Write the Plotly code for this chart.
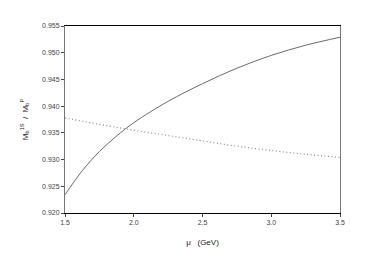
import plotly.graph_objects as go

mu = [1.5, 1.625, 1.75, 1.875, 2.0, 2.25, 2.5, 2.75, 3.0, 3.25, 3.5]
ratio_solid = [0.9234, 0.9279, 0.9315, 0.9344, 0.9369, 0.9409, 0.9442, 0.9471, 0.9495, 0.9514, 0.9529]

mu_d = [1.5, 1.75, 2.0, 2.25, 2.5, 2.75, 3.0, 3.25, 3.5]
ratio_dotted = [0.9378, 0.9366, 0.9355, 0.9345, 0.9335, 0.9325, 0.9317, 0.9310, 0.9304]

x_ticks = [1.5, 2.0, 2.5, 3.0, 3.5]
x_labels = ["1.5", "2.0", "2.5", "3.0", "3.5"]
y_ticks = [0.920, 0.925, 0.930, 0.935, 0.940, 0.945, 0.950, 0.955]
y_labels = ["0.920", "0.925", "0.930", "0.935", "0.940", "0.945", "0.950", "0.955"]

fig = go.Figure()
fig.add_trace(go.Scatter(x=mu, y=ratio_solid, mode="lines",
                         line=dict(color="#6a6a6a", width=1, shape="spline", smoothing=1.0)))
fig.add_trace(go.Scatter(x=mu_d, y=ratio_dotted, mode="lines",
                         line=dict(color="#8a8a8a", width=1.2, dash="1px,2.5px", shape="spline")))

font = dict(family="Liberation Sans, Arial, sans-serif", size=7, color="#444444")
tfont = dict(family="Liberation Sans, Arial, sans-serif", size=8, color="#222222")
fig.update_layout(
    width=358, height=249,
    margin=dict(l=57, r=26, t=18, b=38),
    paper_bgcolor="white", plot_bgcolor="white",
    showlegend=False,
    font=font,
    xaxis=dict(range=[1.5, 3.5], tickvals=x_ticks, ticktext=x_labels,
               showgrid=False, zeroline=False, showline=True, linecolor="#000000",
               linewidth=1, mirror=True, ticks="outside", ticklen=3, tickcolor="#444444",
               tickfont=font,
               title=dict(text="μ &nbsp;&nbsp;(GeV)", font=tfont, standoff=13)),
    yaxis=dict(range=[0.920, 0.955], tickvals=y_ticks, ticktext=y_labels,
               showgrid=False, zeroline=False, showline=True, linecolor="#777777",
               linewidth=1, mirror=True, ticks="outside", ticklen=3, tickcolor="#444444",
               tickfont=font,
               title=dict(text="M<sub>b</sub><sup>1S</sup> &nbsp;/ &nbsp;M<sub>b</sub><sup>P</sup>",
                          font=tfont, standoff=12)),
)
fig.write_html("out.html")
